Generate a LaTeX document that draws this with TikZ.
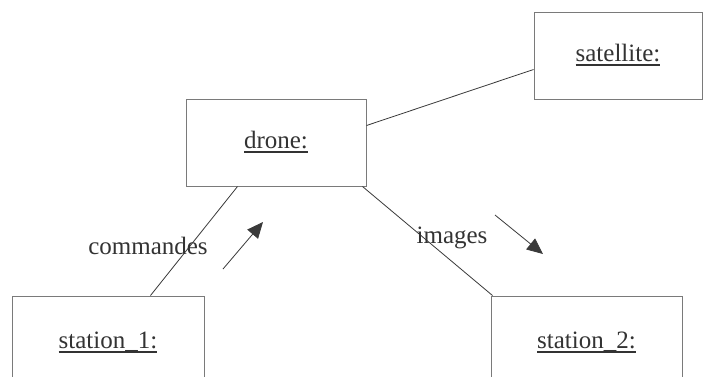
\documentclass[tikz,border=0pt]{standalone}
\usepackage{fontspec}
\setmainfont{Liberation Serif}
\usetikzlibrary{arrows.meta,calc}
\definecolor{boxgray}{HTML}{7A7A7A}
\definecolor{linegray}{HTML}{3A3A3A}
\definecolor{txtgray}{HTML}{333333}
\newcommand\objul[1]{\setbox0\hbox{#1}\rlap{\usebox0}\raisebox{-4.5pt}{\rule{\wd0}{2pt}}}
\begin{document}
\begin{tikzpicture}[x=1pt,y=-1pt,
  objbox/.style={draw=boxgray,line width=1pt,fill=white,inner sep=0pt,text=txtgray,
    font=\fontsize{25}{30}\selectfont},
  link/.style={draw=linegray,line width=0.8pt},
  lbl/.style={text=txtgray,font=\fontsize{25}{30}\selectfont,inner sep=0pt},
  msg/.style={draw=linegray,line width=0.8pt,-{Triangle[length=16pt,width=14pt]},color=linegray}]
\useasboundingbox[fill=white] (0,0) rectangle (703,376);
\node[objbox,minimum width=180pt,minimum height=87pt] (drone) at (276,142.5) {\objul{drone:}};
\node[objbox,minimum width=168pt,minimum height=87pt] (sat) at (618,55.5) {\objul{satellite:}};
\node[objbox,minimum width=192pt,minimum height=92pt] (s1) at (108,342) {\objul{station\_1:}};
\node[objbox,minimum width=191pt,minimum height=92pt] (s2) at (586.5,342) {\objul{station\_2:}};
\draw[link] ($(drone.north east)+(0,27)$) -- ($(sat.north west)+(0,58)$);
\draw[link] ($(drone.south west)+(52,0)$) -- ($(s1.north west)+(139,0)$);
\draw[link] ($(drone.south east)+(-4,0)$) -- ($(s2.north west)+(2,0)$);
\node[lbl] (cmd) at (148,246) {commandes};
\node[lbl] (img) at (452,238) {images};
\coordinate (c1) at (223,269);
\coordinate (c2) at (263,222);
\coordinate (i1) at (495,215);
\coordinate (i2) at (543,254);
\draw[msg] (c1) -- (c2);
\draw[msg] (i1) -- (i2);
\end{tikzpicture}
\end{document}
